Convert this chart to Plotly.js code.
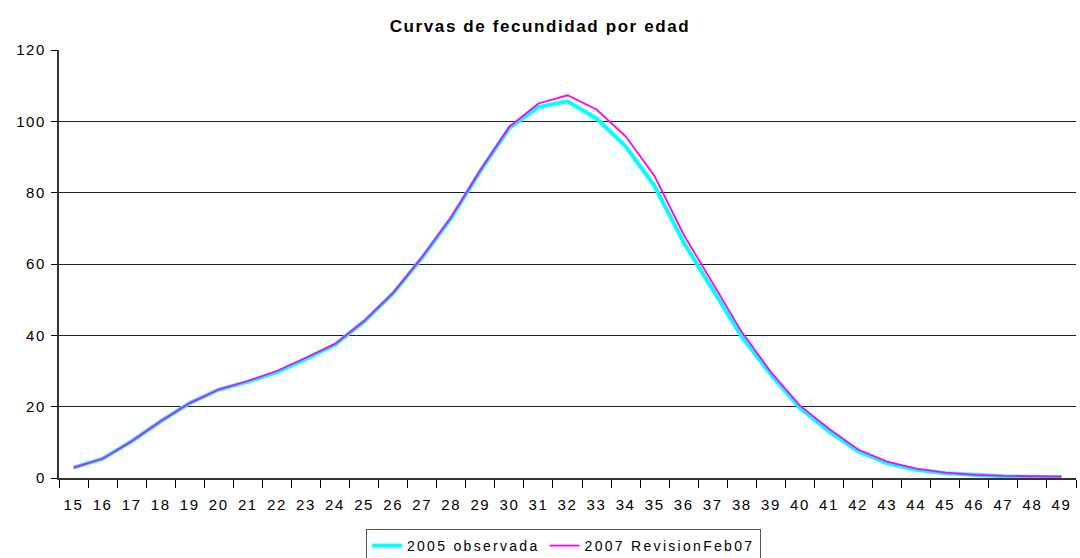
<!DOCTYPE html>
<html>
<head>
<meta charset="utf-8">
<script src="https://cdn.plot.ly/plotly-3.0.1.min.js"></script>
<style>
  html, body { margin: 0; padding: 0; background: #fff; }
  #chart { width: 1080px; height: 558px; }
  /* wider tracking for the axis, legend and title texts */
  .xtick text, .ytick text, .gtitle { letter-spacing: 1.6px; }
  .legendtext { letter-spacing: 2.3px; }
</style>
</head>
<body>
<div id="chart"></div>
<script>
// Edades simples 15-49
const edades = ['15','16','17','18','19','20','21','22','23','24','25','26','27','28','29','30','31','32',
                '33','34','35','36','37','38','39','40','41','42','43','44','45','46','47','48','49'];

// Tasas específicas de fecundidad por edad (por mil)
const observada2005 = [2.9, 5.4, 10.3, 15.9, 21.0, 24.8, 27.0, 29.7, 33.4, 37.4, 43.9, 51.8, 61.8, 72.9, 86.1, 98.2,
                       104.0, 105.6, 100.8, 93.0, 81.8, 66.0, 52.8, 39.6, 29.0, 19.6, 13.1, 7.5, 4.1, 2.3, 1.3, 0.8, 0.5, 0.3, 0.3];
const revision2007 = [2.9, 5.4, 10.3, 15.9, 21.0, 24.8, 27.2, 30.0, 33.7, 37.6, 44.0, 51.9, 62.0, 73.2, 86.3, 98.5,
                      105.0, 107.3, 103.3, 95.8, 84.6, 68.2, 54.6, 40.9, 29.7, 20.3, 13.8, 8.0, 4.6, 2.6, 1.5, 0.9, 0.6, 0.4, 0.4];

const nombres = ['2005 observada', '2007 RevisionFeb07'];

const traces = [
  {
    x: edades, y: observada2005, name: nombres[0],
    type: 'scatter', mode: 'lines',
    line: { color: '#00FFFF', width: 4 }
  },
  {
    x: edades, y: revision2007, name: nombres[1],
    type: 'scatter', mode: 'lines',
    line: { color: '#FF00FF', width: 1.8 }
  }
];

const fuente = 'Liberation Sans, Arial, sans-serif';

const layout = {
  width: 1080, height: 558,
  margin: { l: 59, r: 4, t: 50, b: 80, autoexpand: false },
  paper_bgcolor: '#ffffff',
  plot_bgcolor: '#ffffff',
  title: {
    text: '<b>Curvas de fecundidad por edad</b>',
    font: { family: fuente, size: 17, color: '#000' },
    x: 0.5, xanchor: 'center', y: 0.953, yanchor: 'middle'
  },
  xaxis: {
    type: 'category',
    showgrid: false,
    showline: true, linecolor: '#333', linewidth: 2,
    ticks: 'outside', tickson: 'boundaries', ticklen: 8, tickcolor: '#000', tickwidth: 1,
    tickfont: { family: fuente, size: 15, color: '#000' },
    ticklabelstandoff: 12,
    range: [-0.5, edades.length - 0.5],
    zeroline: false, fixedrange: true
  },
  yaxis: {
    range: [0, 120], dtick: 20,
    showgrid: true, gridcolor: '#222', gridwidth: 1,
    showline: true, linecolor: '#333', linewidth: 2,
    ticks: 'outside', ticklen: 6, tickcolor: '#000',
    tickfont: { family: fuente, size: 15, color: '#000' },
    ticklabelstandoff: 2,
    zeroline: false, fixedrange: true
  },
  showlegend: true,
  legend: {
    orientation: 'h',
    x: 0.496, xanchor: 'center', xref: 'paper',
    y: 0.052, yanchor: 'top', yref: 'container',
    bordercolor: '#555', borderwidth: 1,
    bgcolor: '#fff',
    font: { family: fuente, size: 14, color: '#000' },
    itemwidth: 30, tracegroupgap: 0
  }
};

Plotly.newPlot('chart', traces, layout, { displayModeBar: false, staticPlot: true });
</script>
</body>
</html>
